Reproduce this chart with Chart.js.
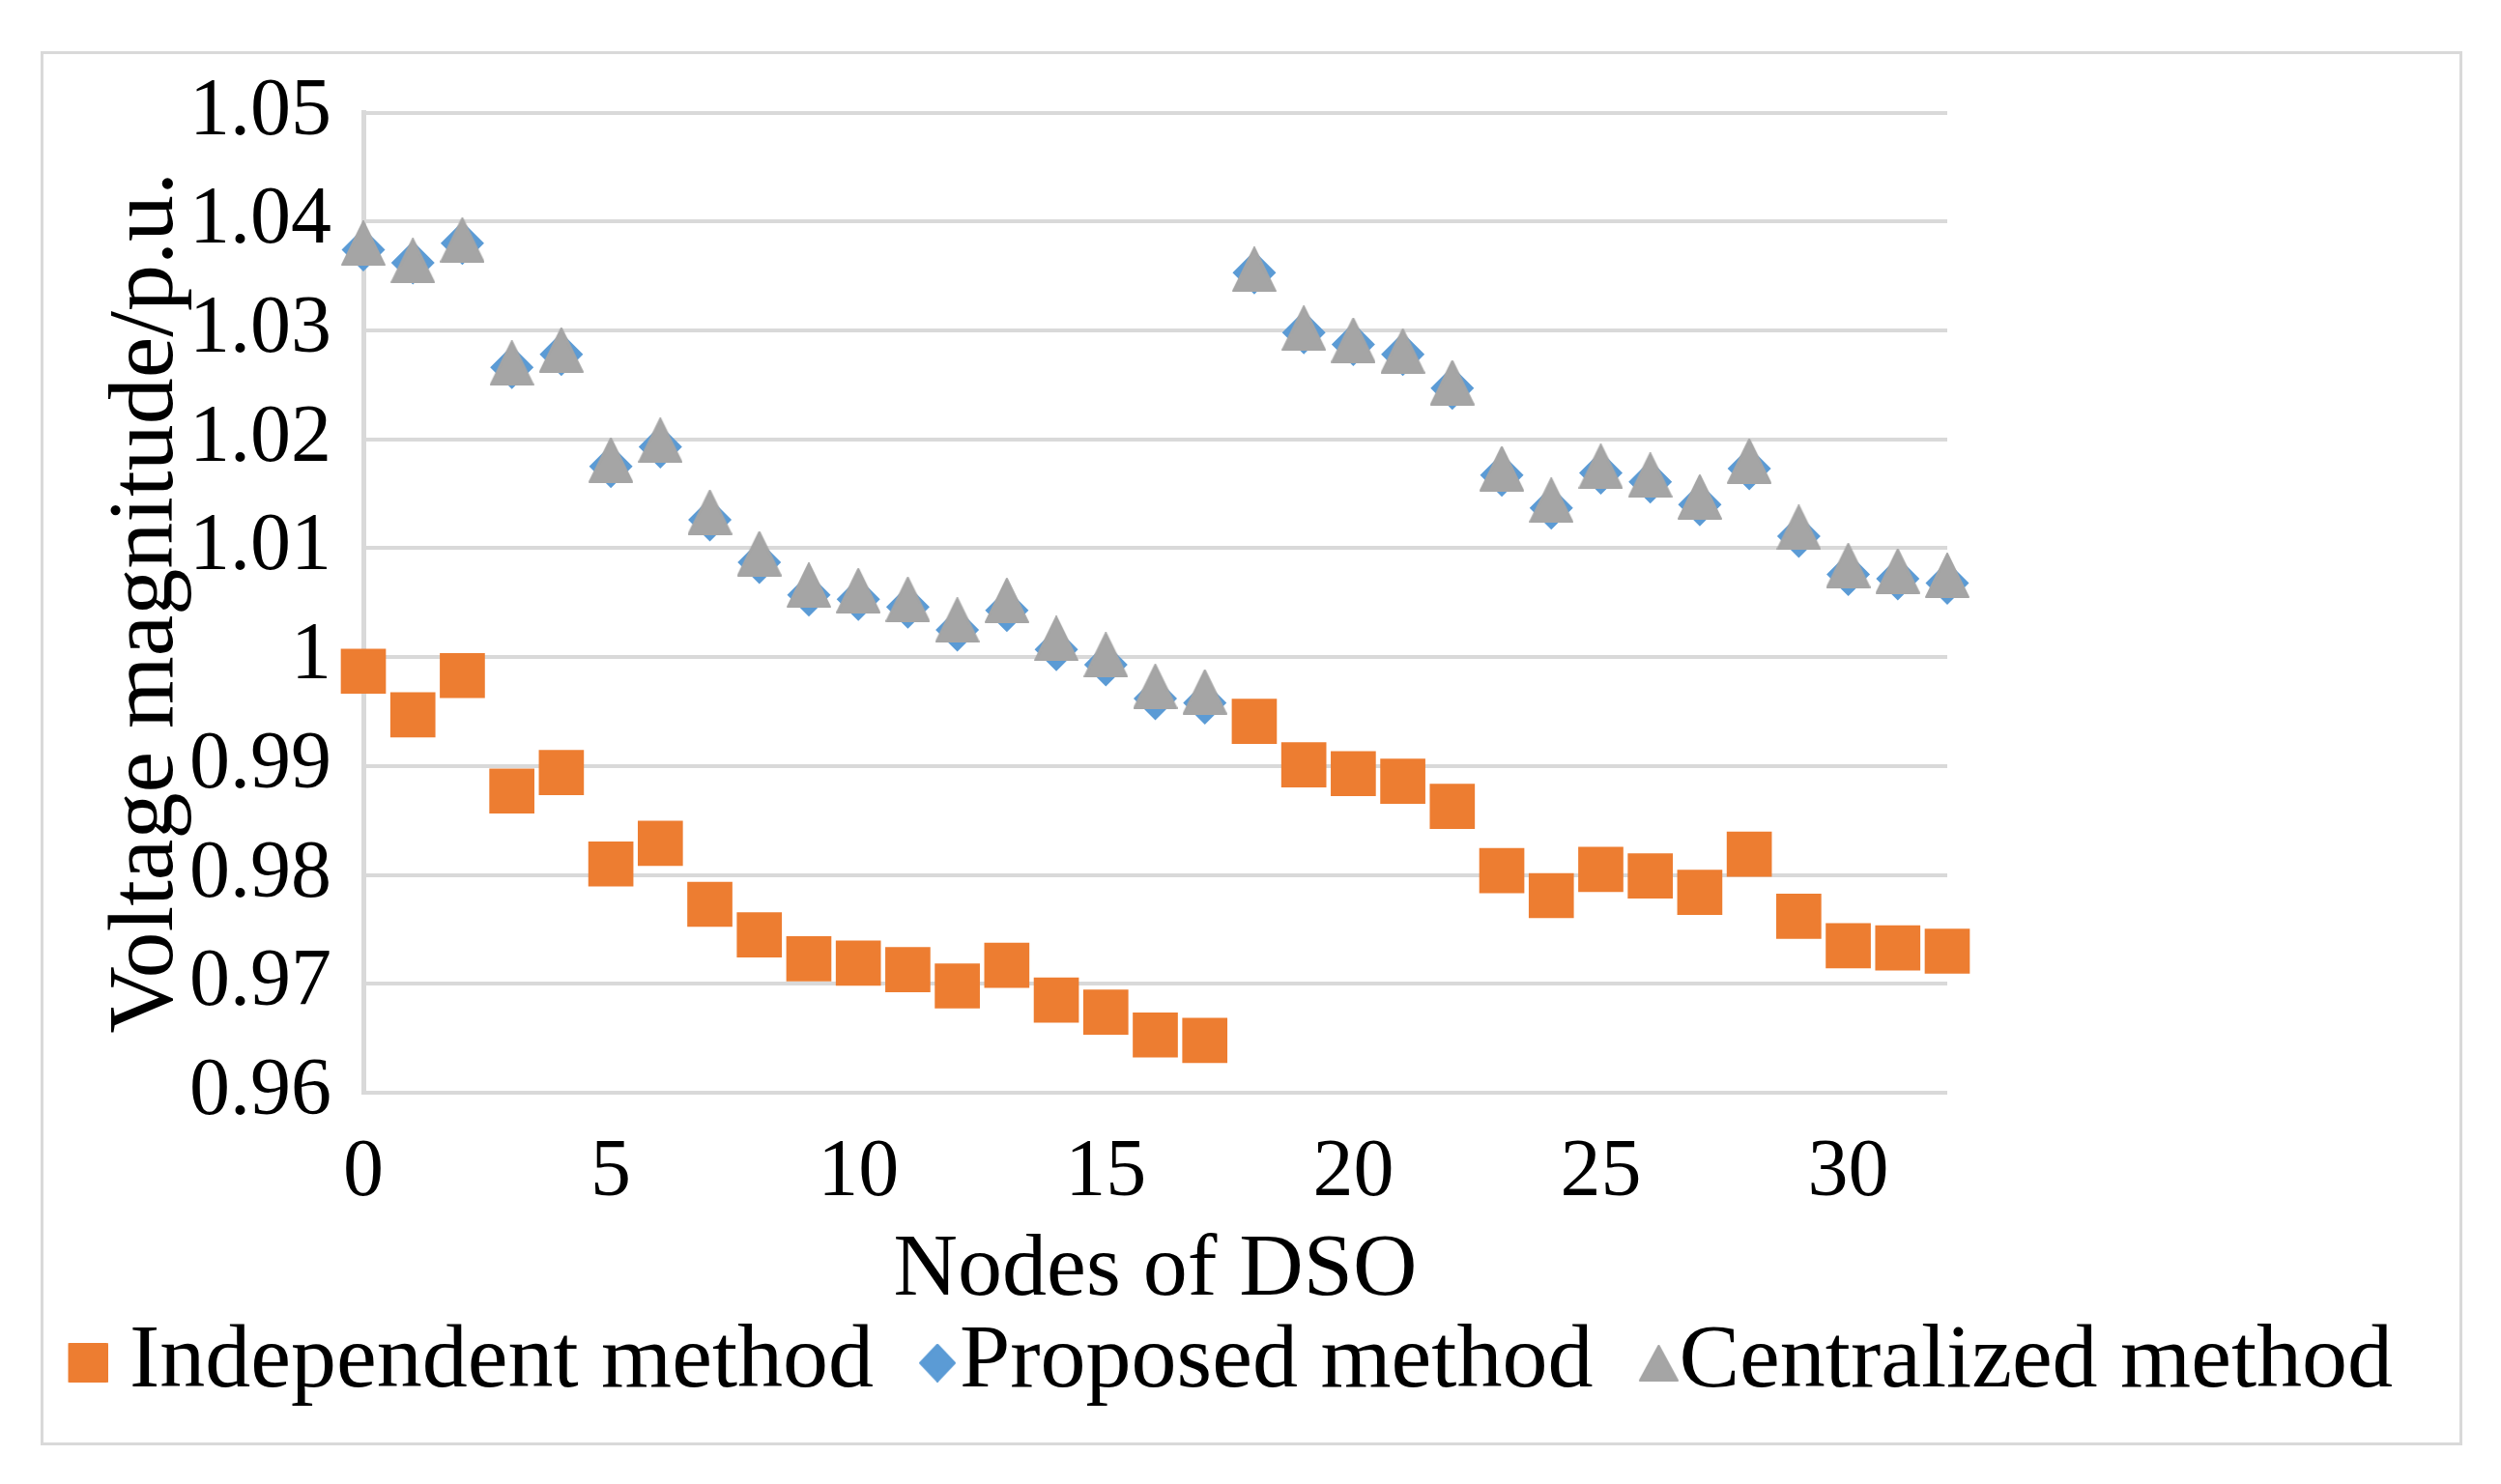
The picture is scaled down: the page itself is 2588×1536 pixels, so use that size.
<!DOCTYPE html>
<html>
<head>
<meta charset="utf-8">
<script src="https://cdn.jsdelivr.net/npm/chart.js@4.4.1/dist/chart.umd.min.js"></script>
<style>
  html, body { margin: 0; padding: 0; background: #fff; }
  #box { position: absolute; left: 42px; top: 53px; width: 2500px; height: 1437px; border: 3px solid #d9d9d9; }
  canvas { display: block; }
</style>
</head>
<body>
<div id="box"><canvas id="chart" width="2500" height="1437"></canvas></div>
<script>
// node numbers 0..32 along the x axis
const nodes = [0, 1, 2, 3, 4, 5, 6, 7, 8, 9, 10, 11, 12, 13, 14, 15, 16,
               17, 18, 19, 20, 21, 22, 23, 24, 25, 26, 27, 28, 29, 30, 31, 32];

const independent = [0.9987, 0.9947, 0.9983, 0.9877, 0.9894, 0.9810, 0.9829, 0.9773, 0.9745,
                     0.9723, 0.9719, 0.9713, 0.9698, 0.9717, 0.9685, 0.9674, 0.9653, 0.9648,
                     0.9941, 0.9901, 0.9893, 0.9886, 0.9863, 0.9804, 0.9781, 0.9805, 0.9799,
                     0.9784, 0.9819, 0.9762, 0.9735, 0.9733, 0.9730];

const proposed = [1.0374, 1.0362, 1.0380, 1.0266, 1.0278, 1.0175, 1.0193, 1.0126, 1.0087,
                  1.0057, 1.0053, 1.0046, 1.0025, 1.0043, 1.0007, 0.9993, 0.9962, 0.9958,
                  1.0353, 1.0298, 1.0287, 1.0278, 1.0247, 1.0167, 1.0137, 1.0169, 1.0161,
                  1.0140, 1.0173, 1.0111, 1.0076, 1.0072, 1.0068];

const centralized = [1.0380, 1.0364, 1.0383, 1.0270, 1.0282, 1.0181, 1.0199, 1.0133, 1.0095,
                     1.0066, 1.0061, 1.0053, 1.0034, 1.0052, 1.0017, 1.0002, 0.9973, 0.9968,
                     1.0356, 1.0302, 1.0291, 1.0281, 1.0252, 1.0173, 1.0144, 1.0175, 1.0167,
                     1.0147, 1.0180, 1.0119, 1.0084, 1.0079, 1.0075];

const seriesNames = ['Independent method', 'Proposed method', 'Centralized method'];
const xTicks = [0, 5, 10, 15, 20, 25, 30];
const yTicks = [0.96, 0.97, 0.98, 0.99, 1, 1.01, 1.02, 1.03, 1.04, 1.05];

const ORANGE = '#ED7D31';
const BLUE = '#5B9BD5';
const GREY = '#A5A5A5';
const FONT = 'Liberation Serif';

function toPoints(values) {
    return nodes.map((n, i) => ({ x: n, y: values[i] }));
}

// little canvases used as marker images; shift moves the shape right of the image centre
function markCanvas(w, h, color, draw, shift = 0) {
    const c = document.createElement('canvas');
    c.width = w + 2 * shift;
    c.height = h;
    const g = c.getContext('2d');
    g.translate(2 * shift, 0);
    g.fillStyle = color;
    g.strokeStyle = color;
    g.lineJoin = 'round';
    g.lineWidth = 2;
    g.beginPath();
    draw(g, w, h);
    g.closePath();
    g.fill();
    g.stroke();
    return c;
}
const triangle = (g, w, h) => { g.moveTo(w / 2, 1); g.lineTo(w - 1, h - 1); g.lineTo(1, h - 1); };
const diamond = (g, w, h) => { g.moveTo(w / 2, 1); g.lineTo(w - 1, h / 2); g.lineTo(w / 2, h - 1); g.lineTo(1, h / 2); };
const square = (g, w, h) => { g.rect(1, 1, w - 2, h - 2); };

const triMark = markCanvas(46, 47, GREY, triangle);
const legendMarks = [
    markCanvas(41, 41, ORANGE, square, 5),
    markCanvas(38, 40, BLUE, diamond, 25),
    markCanvas(41, 38, GREY, triangle, 27)
];

const ctx = document.getElementById('chart').getContext('2d');
new Chart(ctx, {
    type: 'scatter',
    data: {
        datasets: [{
            label: seriesNames[0],
            data: toPoints(independent),
            pointStyle: 'rect',
            pointRadius: 33,
            pointBackgroundColor: ORANGE,
            backgroundColor: ORANGE,
            pointBorderWidth: 0,
            order: 2,
            clip: false
        }, {
            label: seriesNames[1],
            data: toPoints(proposed),
            pointStyle: 'rectRot',
            pointRadius: 22.5,
            pointBackgroundColor: BLUE,
            backgroundColor: BLUE,
            pointBorderWidth: 0,
            order: 1,
            clip: false
        }, {
            label: seriesNames[2],
            data: toPoints(centralized),
            pointStyle: triMark,
            pointRadius: 23,
            pointBackgroundColor: GREY,
            backgroundColor: GREY,
            pointBorderWidth: 0,
            order: 0,
            clip: false
        }]
    },
    options: {
        responsive: false,
        animation: false,
        layout: {
            padding: { top: 60.5, right: 0, bottom: 25.3, left: 0 }
        },
        plugins: {
            tooltip: { enabled: false },
            legend: {
                position: 'bottom',
                align: 'start',
                labels: {
                    usePointStyle: true,
                    boxWidth: 2,
                    boxHeight: 40,
                    padding: 40,
                    color: '#000',
                    font: { family: FONT, size: 94 },
                    sort: (a, b) => a.datasetIndex - b.datasetIndex,
                    generateLabels: chart => Chart.defaults.plugins.legend.labels.generateLabels(chart).map(item => {
                        item.pointStyle = legendMarks[item.datasetIndex];
                        item.fontColor = '#000';
                        return item;
                    })
                }
            }
        },
        scales: {
            x: {
                type: 'linear',
                min: 0,
                max: 32,
                afterBuildTicks: scale => { scale.ticks = xTicks.map(v => ({ value: v })); },
                afterFit: scale => { scale.height = 192.7; },
                grid: { display: false, drawTicks: false },
                border: { display: false },
                ticks: {
                    color: '#000',
                    font: { family: FONT, size: 84 },
                    padding: 33.6,
                    maxRotation: 0,
                    autoSkip: false,
                    callback: v => String(v)
                },
                title: {
                    display: true,
                    text: 'Nodes of DSO',
                    color: '#000',
                    font: { family: FONT, size: 92 },
                    padding: { top: 0, bottom: -47.5 }
                }
            },
            y: {
                type: 'linear',
                min: 0.96,
                max: 1.05,
                afterBuildTicks: scale => { scale.ticks = yTicks.map(v => ({ value: v })); },
                afterFit: scale => {
                    scale.width = 331;
                    scale.paddingTop = 0;
                    scale.paddingBottom = 0;
                },
                grid: { color: '#d9d9d9', lineWidth: 4, drawTicks: false },
                border: { color: '#d9d9d9', width: 5 },
                ticks: {
                    color: '#000',
                    font: { family: FONT, size: 84 },
                    padding: 33,
                    autoSkip: false,
                    callback: v => String(v)
                },
                title: {
                    display: true,
                    text: 'Voltage magnitude/p.u.',
                    color: '#000',
                    font: { family: FONT, size: 96 },
                    padding: { top: 50, bottom: 0 }
                }
            },
            yRight: {
                position: 'right',
                min: 0,
                max: 1,
                afterFit: scale => { scale.width = 530; },
                grid: { display: false, drawTicks: false },
                border: { display: false },
                ticks: { display: false }
            }
        }
    }
});
</script>
</body>
</html>
